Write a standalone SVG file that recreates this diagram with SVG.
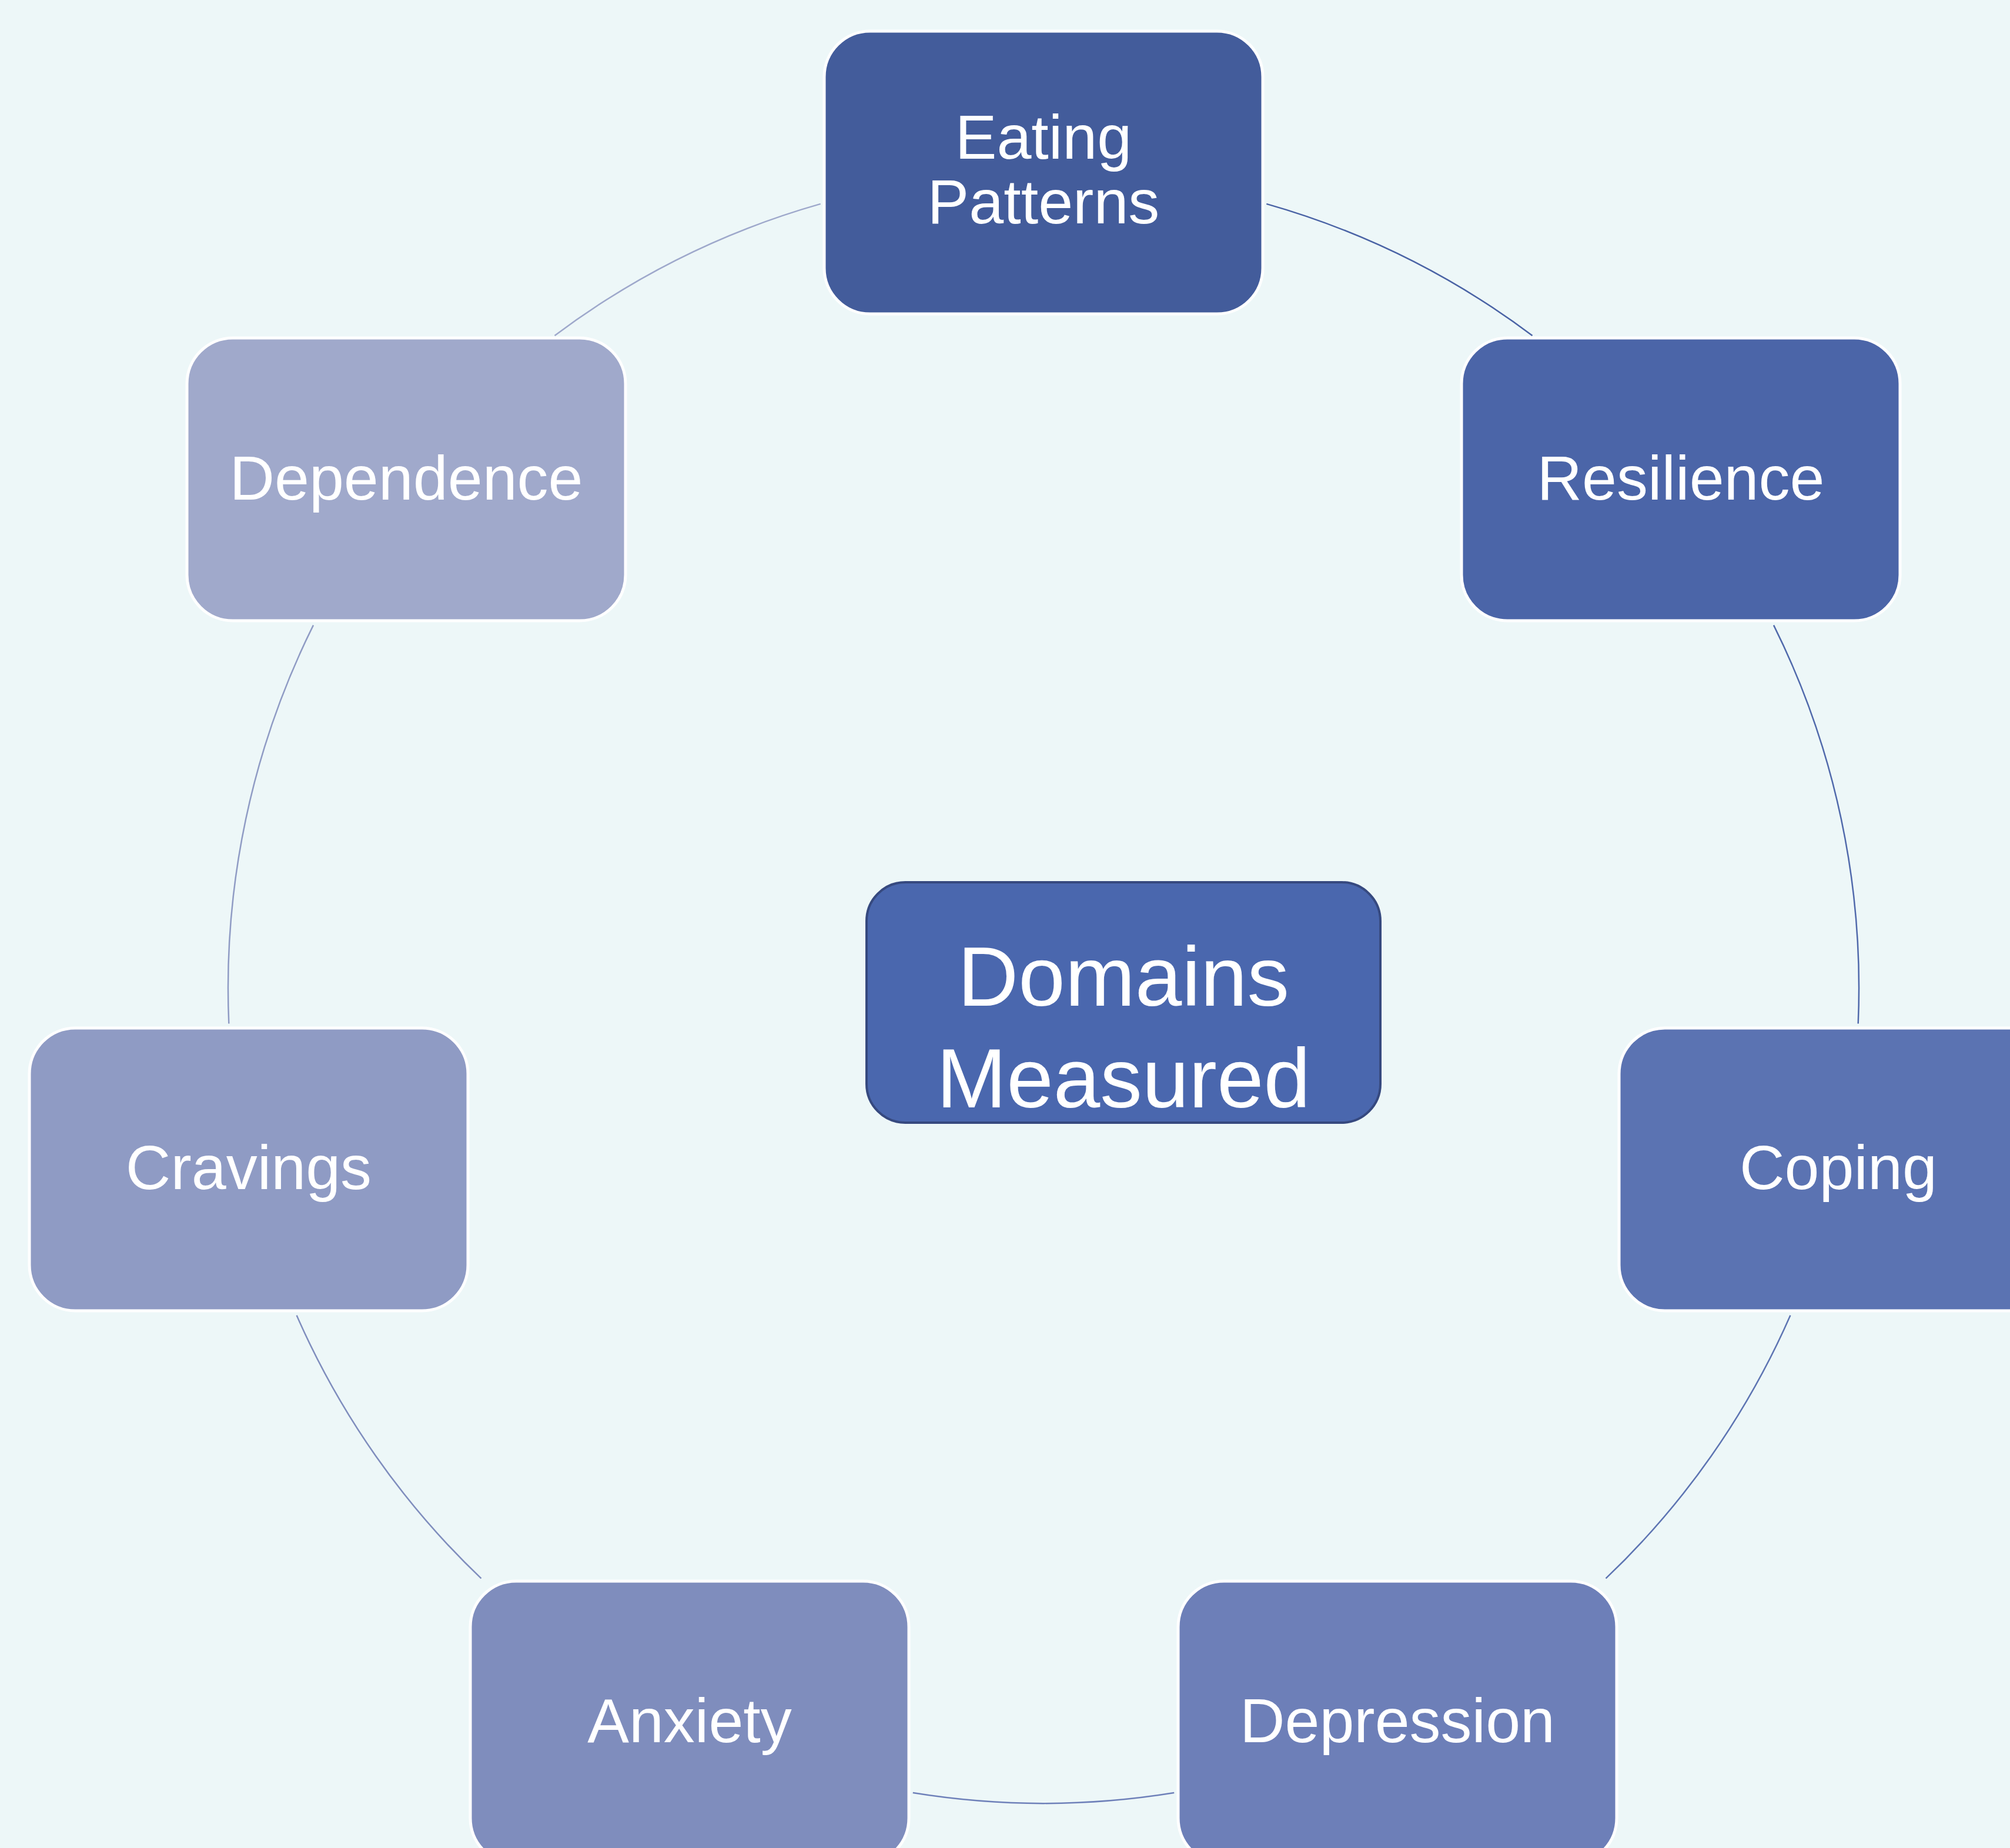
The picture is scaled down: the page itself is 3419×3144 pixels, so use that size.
<svg xmlns="http://www.w3.org/2000/svg" width="3419" height="3144" viewBox="0 0 3419 3144">
<style>
.node rect{stroke:#ffffff;stroke-width:5}
.lbl{font-family:"Liberation Sans",Arial,sans-serif;font-size:106px;fill:#ffffff;text-anchor:middle}
.clbl{font-family:"Liberation Sans",Arial,sans-serif;font-size:143px;fill:#ffffff;text-anchor:middle}
.conn path{fill:none;stroke-width:2.5}
</style>
<rect x="0" y="0" width="3419" height="3144" fill="#EDF7F8"/>
<g id="connectors" class="conn">
<path d="M2154.3,346.9 A1387,1387 0 0 1 2606.5,570.9" stroke="#4A63A5"/>
<path d="M3017.0,1063.6 A1387,1387 0 0 1 3160.7,1741.5" stroke="#5069AB"/>
<path d="M3045.4,2237.8 A1387,1387 0 0 1 2731.5,2685.4" stroke="#5D74B2"/>
<path d="M1997.2,3050.1 A1387,1387 0 0 1 1552.8,3050.1" stroke="#6E80B9"/>
<path d="M818.5,2685.4 A1387,1387 0 0 1 504.6,2237.8" stroke="#7F8DBD"/>
<path d="M389.3,1741.5 A1387,1387 0 0 1 533.0,1063.6" stroke="#8F9BC4"/>
<path d="M943.5,570.9 A1387,1387 0 0 1 1395.7,346.9" stroke="#9EA8CB"/>
</g>
<g id="node-eating" class="node">
<rect x="1402" y="53" width="746" height="481" rx="78" fill="#435C9B"/>
<text class="lbl" x="1775" y="270">Eating</text>
<text class="lbl" x="1775" y="380">Patterns</text>
</g>
<g id="node-resilience" class="node">
<rect x="2486" y="575" width="746" height="481" rx="78" fill="#4B65A8"/>
<text class="lbl" x="2859" y="850">Resilience</text>
</g>
<g id="node-coping" class="node">
<rect x="2754" y="1749" width="746" height="481" rx="78" fill="#5B73B2"/>
<text class="lbl" x="3127" y="2023">Coping</text>
</g>
<g id="node-depression" class="node">
<rect x="2004" y="2690" width="746" height="481" rx="78" fill="#6D7FB8"/>
<text class="lbl" x="2377" y="2964">Depression</text>
</g>
<g id="node-anxiety" class="node">
<rect x="800" y="2690" width="746" height="481" rx="78" fill="#7F8DBD"/>
<text class="lbl" x="1173" y="2964">Anxiety</text>
</g>
<g id="node-cravings" class="node">
<rect x="50" y="1749" width="746" height="481" rx="78" fill="#8F9BC4"/>
<text class="lbl" x="423" y="2023">Cravings</text>
</g>
<g id="node-dependence" class="node">
<rect x="318" y="575" width="746" height="481" rx="78" fill="#A0A9CB"/>
<text class="lbl" x="691" y="850">Dependence</text>
</g>
<g id="node-center">
<rect x="1474" y="1501" width="874" height="409" rx="66" fill="#4A67AE" stroke="#36497F" stroke-width="4"/>
<text class="clbl" x="1911" y="1711">Domains</text>
<text class="clbl" x="1911" y="1884">Measured</text>
</g>
</svg>
